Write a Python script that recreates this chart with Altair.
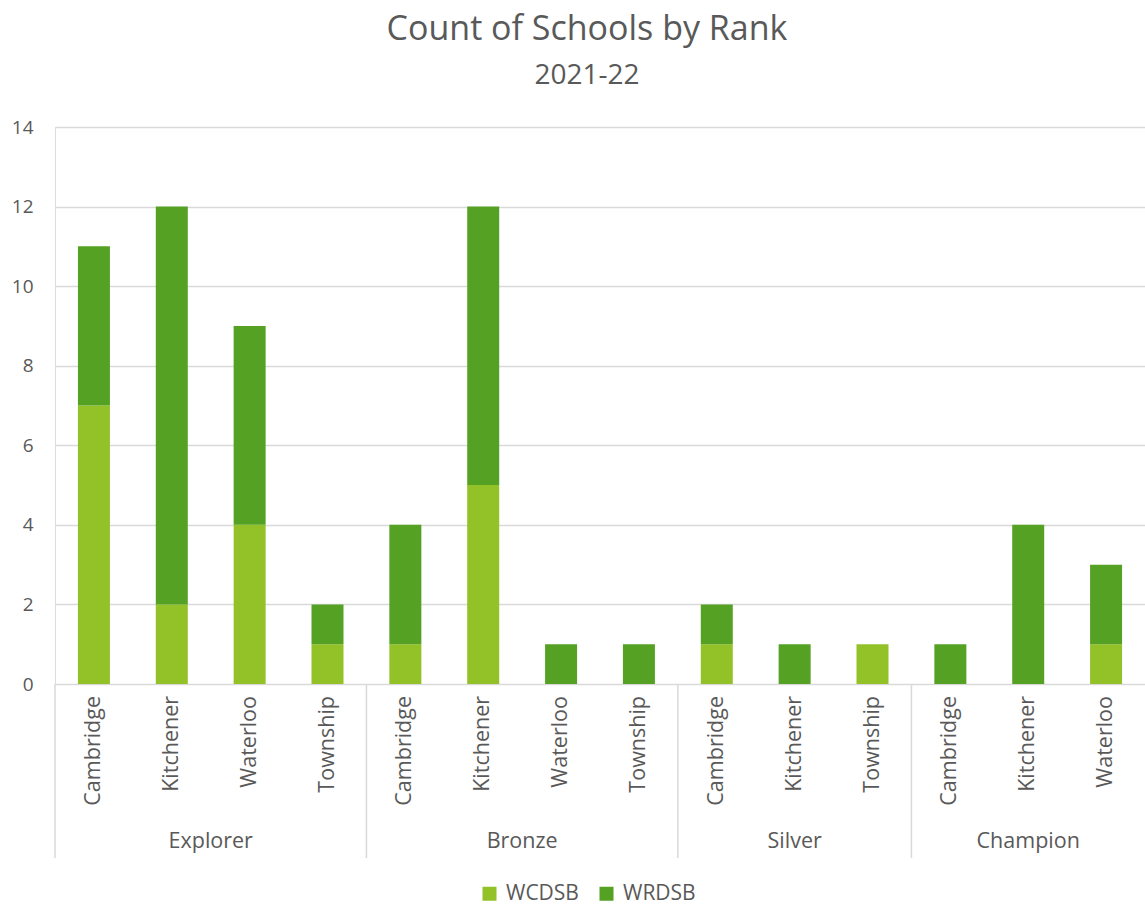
import altair as alt
import pandas as pd

ranks = ["Explorer", "Bronze", "Silver", "Champion"]
group_cities = [
    ["Cambridge", "Kitchener", "Waterloo", "Township"],
    ["Cambridge", "Kitchener", "Waterloo", "Township"],
    ["Cambridge", "Kitchener", "Township"],
    ["Cambridge", "Kitchener", "Waterloo"],
]
wcdsb = [7, 2, 4, 1, 1, 5, 0, 0, 1, 0, 1, 0, 0, 1]
wrdsb = [4, 10, 5, 1, 3, 7, 1, 1, 1, 1, 0, 1, 4, 2]
series = ["WCDSB", "WRDSB"]
colors = ["#93C128", "#55A123"]

FONT = "Open Sans"
GRAY = "#595959"
W, H = 1090, 557

rows, cats, groups, seps = [], [], [], []
idx = 0
for r, cities in zip(ranks, group_cities):
    start = idx
    seps.append({"x": start - 0.5})
    for c in cities:
        cats.append({"idx": idx, "city": c, "rank": r})
        rows.append({"idx": idx, "series": "WCDSB", "value": wcdsb[idx], "ord": 0})
        rows.append({"idx": idx, "series": "WRDSB", "value": wrdsb[idx], "ord": 1})
        idx += 1
    groups.append({"x": (start + idx - 1) / 2, "rank": r})

df = pd.DataFrame(rows)
xscale = alt.Scale(domain=[-0.5, idx - 0.5], nice=False, zero=False, padding=0)

bars = alt.Chart(df).mark_bar(size=32).encode(
    x=alt.X("idx:Q", scale=xscale, axis=None),
    y=alt.Y("value:Q", stack="zero",
            scale=alt.Scale(domain=[0, 14], nice=False),
            axis=alt.Axis(values=list(range(0, 15, 2)), title=None, domain=False,
                          ticks=False, labelPadding=22, labelFontSize=19,
                          labelColor=GRAY, labelFont=FONT, gridColor="#D9D9D9",
                          gridWidth=1.3)),
    color=alt.Color("series:N", scale=alt.Scale(domain=series, range=colors),
                    legend=alt.Legend(title=None, orient="none", direction="horizontal",
                                      legendX=424, legendY=756, symbolType="square",
                                      symbolSize=196, symbolStrokeWidth=0,
                                      labelFontSize=21, labelFont=FONT, labelColor=GRAY,
                                      labelOffset=6, columnPadding=17, symbolOffset=0,
                                      padding=0)),
    order=alt.Order("ord:Q"),
)

city_text = alt.Chart(pd.DataFrame(cats)).mark_text(
    angle=270, align="right", baseline="middle", fontSize=21.5, font=FONT, color=GRAY
).encode(x=alt.X("idx:Q", scale=xscale), y=alt.value(H + 12), text="city:N")

group_text = alt.Chart(pd.DataFrame(groups)).mark_text(
    align="center", baseline="middle", fontSize=21.5, font=FONT, color=GRAY
).encode(x=alt.X("x:Q", scale=xscale), y=alt.value(H + 158), text="rank:N")

sep_rules = alt.Chart(pd.DataFrame(seps)).mark_rule(color="#D9D9D9", strokeWidth=1.5).encode(
    x=alt.X("x:Q", scale=xscale), y=alt.value(H), y2=alt.value(H + 174)
)

chart = alt.layer(bars, sep_rules, city_text, group_text).properties(
    width=W, height=H,
    autosize=alt.AutoSizeParams(type="none"),
    padding={"left": 55, "top": 127, "right": 0, "bottom": 221},
    title=alt.TitleParams(text="Count of Schools by Rank", subtitle="2021-22",
                          fontSize=34, subtitleFontSize=28, font=FONT, subtitleFont=FONT,
                          color=GRAY, subtitleColor=GRAY, fontWeight="normal",
                          anchor="middle", offset=28, subtitlePadding=15, dx=-13),
).configure_view(stroke=None).configure(background="white")

chart.save("out.html", embed_options={"renderer": "svg", "actions": False})
